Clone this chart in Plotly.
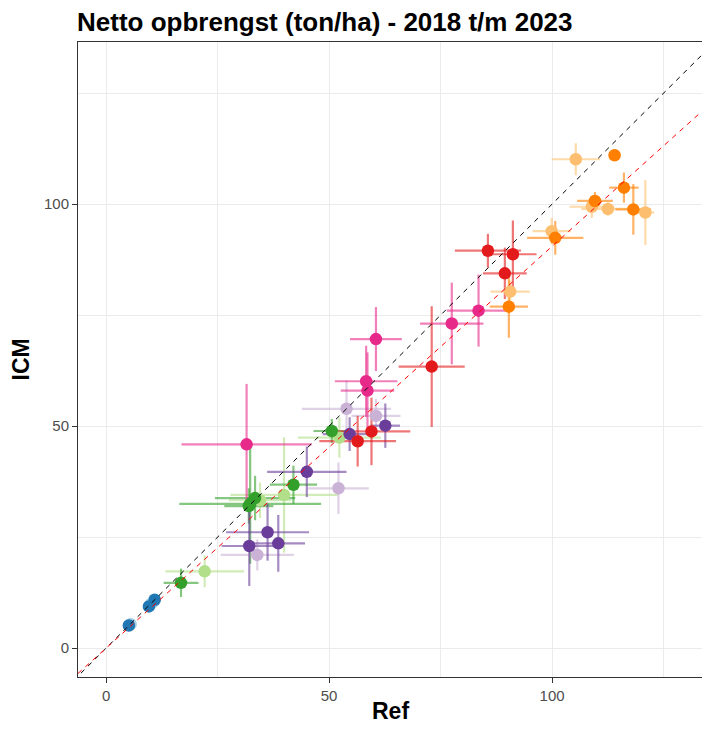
import plotly.graph_objects as go

# ---- data ----
group_names = ["lichtblauw", "blauw", "lichtgroen", "groen", "lichtpaars", "paars",
               "roze", "rood", "lichtoranje", "oranje"]
group_colors = ["#a6cee3", "#1f78b4", "#b2df8a", "#33a02c", "#cab2d6", "#6a3d9a",
                "#e7298a", "#e31a1c", "#fdbf6f", "#ff7f00"]

point_group = (["lichtblauw"] * 3 + ["blauw"] * 3 + ["lichtgroen"] * 4 + ["groen"] * 6 +
               ["lichtpaars"] * 4 + ["paars"] * 6 + ["roze"] * 6 + ["rood"] * 6 +
               ["lichtoranje"] * 6 + ["oranje"] * 6)

ref = [5.5, 10.0, 10.6,
       5.1, 9.6, 10.9,
       22.1, 34.5, 39.9, 52.3,
       16.8, 32.3, 33.4, 32.0, 42.0, 50.6,
       33.9, 52.1, 53.9, 60.5,
       32.1, 36.2, 38.6, 45.0, 54.6, 62.6,
       31.5, 58.3, 58.6, 60.5, 77.5, 83.5,
       56.4, 59.5, 73.0, 85.6, 91.2, 89.4,
       90.6, 99.9, 105.3, 108.9, 112.5, 120.9,
       90.3, 100.7, 109.6, 114.0, 116.1, 118.2]

icm = [5.4, 9.9, 10.5,
       5.1, 9.4, 10.9,
       17.3, 33.3, 34.5, 47.4,
       14.7, 32.5, 33.8, 32.0, 36.8, 48.9,
       21.0, 36.0, 53.9, 52.3,
       23.0, 26.1, 23.6, 39.7, 48.2, 50.1,
       45.9, 60.1, 58.0, 69.6, 73.1, 76.0,
       46.6, 48.8, 63.4, 89.5, 88.7, 84.4,
       80.3, 93.9, 110.1, 99.4, 98.9, 98.1,
       76.9, 92.4, 100.7, 111.0, 103.7, 98.8]

ref_err = [0.8, 0.8, 0.8,
           0.5, 0.6, 0.6,
           8.8, 7.0, 12.0, 9.3,
           3.9, 15.9, 9.0, 5.5, 5.3, 4.1,
           8.2, 6.8, 10.0, 5.5,
           6.2, 9.3, 6.0, 8.9, 6.0, 3.3,
           14.6, 7.0, 6.0, 5.8, 7.1, 7.1,
           8.6, 8.7, 7.4, 7.4, 5.3, 4.9,
           4.4, 4.3, 5.4, 5.0, 6.0, 2.0,
           4.3, 6.3, 4.0, 0.3, 3.3, 4.0]

icm_err = [0.8, 0.8, 0.8,
           0.5, 0.6, 0.6,
           3.6, 4.0, 13.0, 4.5,
           3.2, 13.5, 5.0, 4.0, 4.3, 2.7,
           3.5, 5.8, 6.4, 3.8,
           9.0, 6.4, 6.4, 5.7, 3.8, 5.0,
           13.6, 8.0, 8.6, 7.2, 9.2, 8.1,
           5.7, 7.6, 13.6, 3.8, 7.6, 5.8,
           2.5, 3.0, 3.6, 2.5, 1.5, 7.3,
           7.0, 3.8, 2.0, 0.3, 3.4, 5.7]

fit_slope = 0.905          # red dashed line (fit through origin)
identity_slope = 1.0       # black dashed line
x_range = [-6.3, 133.6]
y_range = [-6.5, 136.5]
tick_values = [0, 50, 100]

title_text = "Netto opbrengst (ton/ha) - 2018 t/m 2023"
x_title = "Ref"
y_title = "ICM"

FONT = "Liberation Sans, Arial, sans-serif"
FIG_W, FIG_H = 694, 715   # page body adds an 8px margin around the figure


def hex_rgba(h, a):
    h = h.lstrip("#")
    return "rgba(%d,%d,%d,%.2f)" % (int(h[0:2], 16), int(h[2:4], 16), int(h[4:6], 16), a)


fig = go.Figure()

# error bars first (beneath all points)
for name, col in zip(group_names, group_colors):
    idx = [i for i, g in enumerate(point_group) if g == name]
    fig.add_trace(go.Scatter(
        x=[ref[i] for i in idx], y=[icm[i] for i in idx], mode="markers",
        marker=dict(size=12, color=col, opacity=0),
        error_x=dict(type="data", array=[ref_err[i] for i in idx], color=hex_rgba(col, 0.6),
                     thickness=2.2, width=0),
        error_y=dict(type="data", array=[icm_err[i] for i in idx], color=hex_rgba(col, 0.6),
                     thickness=2.2, width=0),
        showlegend=False, hoverinfo="skip"))

# points
for name, col in zip(group_names, group_colors):
    idx = [i for i, g in enumerate(point_group) if g == name]
    fig.add_trace(go.Scatter(
        x=[ref[i] for i in idx], y=[icm[i] for i in idx], mode="markers",
        marker=dict(size=12.5, color=col, line=dict(width=0)),
        name=name, showlegend=False))

# reference lines
line_x = [x_range[0] - 20, x_range[1] + 20]
fig.add_trace(go.Scatter(x=line_x, y=[identity_slope * v for v in line_x], mode="lines",
                         line=dict(color="black", width=1, dash="5px,5px"),
                         showlegend=False, hoverinfo="skip"))
fig.add_trace(go.Scatter(x=line_x, y=[fit_slope * v for v in line_x], mode="lines",
                         line=dict(color="red", width=1, dash="5px,5px"),
                         showlegend=False, hoverinfo="skip"))

axis_common = dict(
    tickvals=tick_values, ticks="outside", ticklen=5, tickwidth=1, tickcolor="#333333",
    tickfont=dict(family=FONT, size=15, color="#4d4d4d"),
    showgrid=True, gridcolor="#ebebeb", gridwidth=1.1,
    minor=dict(dtick=25, tick0=0, showgrid=True, gridcolor="#ebebeb", gridwidth=0.6, ticks=""),
    showline=True, linecolor="#333333", linewidth=1, mirror=True,
    zeroline=False, automargin=False,
)

fig.update_layout(
    width=FIG_W, height=FIG_H,
    margin=dict(l=70, r=0, t=34, b=46),
    paper_bgcolor="white", plot_bgcolor="white",
    title=dict(text="<b>" + title_text + "</b>", x=69 / FIG_W, xanchor="left",
               y=1 - 14 / FIG_H, yanchor="middle", automargin=False,
               font=dict(family=FONT, size=26, color="black")),
    xaxis=dict(range=x_range, **axis_common),
    yaxis=dict(range=y_range, **axis_common),
    annotations=[
        dict(text="<b>" + x_title + "</b>", xref="paper", yref="paper", x=0.5, y=0,
             xanchor="center", yanchor="middle", yshift=-34, showarrow=False,
             font=dict(family=FONT, size=23, color="black")),
        dict(text="<b>" + y_title + "</b>", xref="paper", yref="paper", x=0, y=0.5,
             xanchor="center", yanchor="middle", xshift=-58, textangle=-90, showarrow=False,
             font=dict(family=FONT, size=23, color="black")),
    ],
)

fig.write_html("out.html")
